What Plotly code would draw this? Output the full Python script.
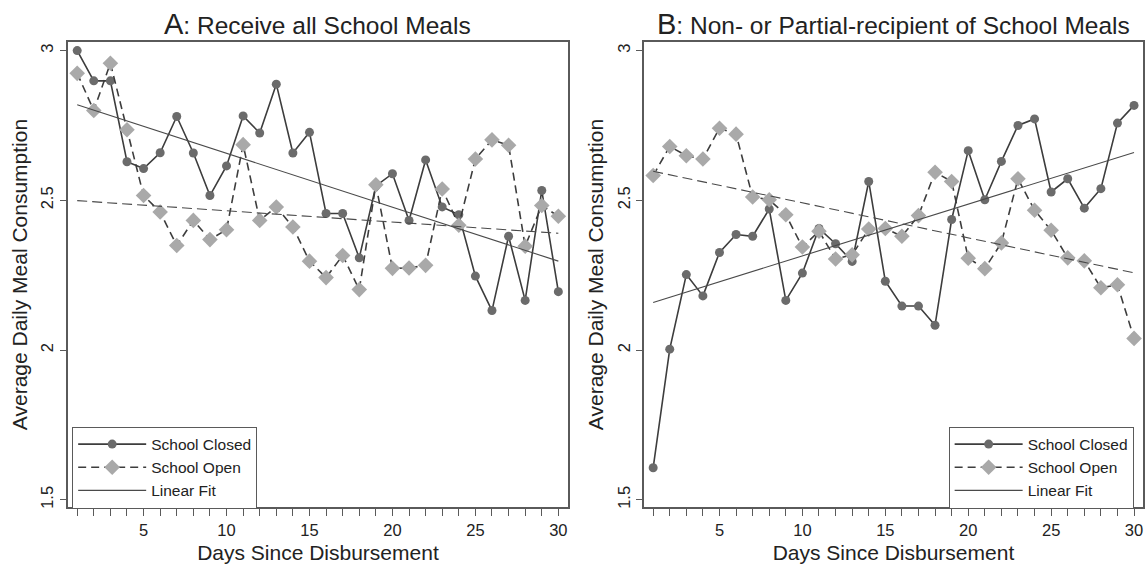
import plotly.graph_objects as go

days = list(range(1, 31))

# Panel A: Receive all School Meals
a_closed = [3.00, 2.899, 2.899, 2.629, 2.606, 2.659, 2.780, 2.658, 2.516, 2.615,
            2.782, 2.725, 2.888, 2.658, 2.727, 2.456, 2.456, 2.308, 2.548, 2.589,
            2.433, 2.635, 2.478, 2.452, 2.247, 2.132, 2.380, 2.166, 2.533, 2.195]
a_open = [2.924, 2.800, 2.958, 2.736, 2.516, 2.461, 2.349, 2.433, 2.369, 2.402,
          2.686, 2.433, 2.478, 2.411, 2.297, 2.242, 2.316, 2.202, 2.552, 2.273,
          2.274, 2.283, 2.538, 2.417, 2.638, 2.702, 2.684, 2.347, 2.483, 2.447]
# linear fit values read at day 1 and day 30
a_closed_fit = [2.819, 2.297]
a_open_fit = [2.499, 2.390]

# Panel B: Non- or Partial-recipient of School Meals
b_closed = [1.607, 2.003, 2.252, 2.181, 2.326, 2.386, 2.380, 2.471, 2.166, 2.257,
            2.406, 2.355, 2.296, 2.563, 2.230, 2.147, 2.147, 2.083, 2.436, 2.666,
            2.502, 2.630, 2.750, 2.772, 2.528, 2.572, 2.474, 2.539, 2.758, 2.817]
b_open = [2.583, 2.680, 2.649, 2.638, 2.741, 2.721, 2.511, 2.502, 2.452, 2.344,
          2.397, 2.304, 2.318, 2.404, 2.406, 2.380, 2.449, 2.594, 2.563, 2.307,
          2.272, 2.358, 2.572, 2.467, 2.400, 2.308, 2.298, 2.208, 2.218, 2.039]
b_closed_fit = [2.159, 2.660]
b_open_fit = [2.597, 2.258]

fit_days = [1, 30]

panel_titles = ["A", "B"]
panel_subtitles = [": Receive all School Meals", ": Non- or Partial-recipient of School Meals"]
series_names = ["School Closed", "School Open", "Linear Fit"]
y_ticks = [1.5, 2, 2.5, 3]
y_ticklabels = ["1.5", "2", "2.5", "3"]
x_ticks = days
x_ticklabels = [str(d) if d % 5 == 0 else "" for d in days]

FONT = "Liberation Sans, Arial, Helvetica, sans-serif"
LINE_C = "#3d3d3d"
CLOSED_M = "#6b6b6b"
OPEN_M = "#a9a9a9"
FIT_C = "#4a4a4a"
FRAME_C = "#5a5a5a"
TXT_C = "#222222"

fig = go.Figure()

panels = [(a_closed, a_open, a_closed_fit, a_open_fit, "x", "y", "legend"),
          (b_closed, b_open, b_closed_fit, b_open_fit, "x2", "y2", "legend2")]
for closed, opn, cfit, ofit, xa, ya, lg in panels:
    fig.add_trace(go.Scatter(x=days, y=closed, mode="lines+markers", name=series_names[0],
                             xaxis=xa, yaxis=ya, legend=lg,
                             line=dict(color=LINE_C, width=1.6),
                             marker=dict(symbol="circle", size=9, color=CLOSED_M)))
    fig.add_trace(go.Scatter(x=days, y=opn, mode="lines+markers", name=series_names[1],
                             xaxis=xa, yaxis=ya, legend=lg,
                             line=dict(color=LINE_C, width=1.6, dash="8px,5px"),
                             marker=dict(symbol="diamond", size=12, color=OPEN_M)))
    fig.add_trace(go.Scatter(x=fit_days, y=cfit, mode="lines", name=series_names[2],
                             xaxis=xa, yaxis=ya, legend=lg,
                             line=dict(color=FIT_C, width=1.1)))
    fig.add_trace(go.Scatter(x=fit_days, y=ofit, mode="lines", name=series_names[2],
                             xaxis=xa, yaxis=ya, showlegend=False,
                             line=dict(color=FIT_C, width=1.1, dash="10px,5px")))

W, H = 1145, 564
ydom = [(H - 508.3) / H, (H - 41.7) / H]
xdomA = [67.7 / W, 569.3 / W]
xdomB = [645.0 / W, 1.0]

axis_common = dict(showline=True, linecolor=FRAME_C, linewidth=1.5, mirror=True,
                   showgrid=False, zeroline=False, ticks="outside", tickcolor=FRAME_C,
                   tickwidth=1.3, tickfont=dict(size=16.5, color=TXT_C, family=FONT))
xcommon = dict(axis_common, tickvals=x_ticks, ticktext=x_ticklabels, ticklen=7,
               title=dict(text="Days Since Disbursement",
                          font=dict(size=21, color=TXT_C, family=FONT), standoff=8))
ycommon = dict(axis_common, tickvals=y_ticks, ticktext=y_ticklabels, ticklen=6, tickangle=-90,
               range=[1.4747, 3.03],
               title=dict(text="Average Daily Meal Consumption",
                          font=dict(size=21, color=TXT_C, family=FONT), standoff=5))

legend_common = dict(xanchor="left", yanchor="top", y=(H - 427.3) / H,
                     bordercolor=FRAME_C, borderwidth=1, bgcolor="white",
                     font=dict(size=15.5, family=FONT, color=TXT_C), itemwidth=68)

fig.update_layout(
    width=W, height=H,
    margin=dict(l=0, r=0, t=0, b=0),
    paper_bgcolor="white", plot_bgcolor="white",
    font=dict(family=FONT, color=TXT_C),
    xaxis=dict(xcommon, domain=xdomA, range=[0.42, 30.6], anchor="y"),
    yaxis=dict(ycommon, domain=ydom, anchor="x"),
    xaxis2=dict(xcommon, domain=xdomB, range=[0.44, 30.54], anchor="y2"),
    yaxis2=dict(ycommon, domain=ydom, anchor="x2"),
    legend=dict(legend_common, x=72.3 / W),
    legend2=dict(legend_common, x=950.3 / W),
    showlegend=True,
)

for dom, big, sub in [(xdomA, panel_titles[0], panel_subtitles[0]),
                      (xdomB, panel_titles[1], panel_subtitles[1])]:
    fig.add_annotation(x=(dom[0] + dom[1]) / 2, y=(H - 24) / H, xref="paper", yref="paper",
                       xanchor="center", yanchor="middle", showarrow=False,
                       text=f"<span style='font-size:29px'>{big}</span>{sub}",
                       font=dict(size=24.5, family=FONT, color=TXT_C))

fig.write_html("out.html", config={"displayModeBar": False})

# remove the browser's default page margin so the figure fills the window exactly
with open("out.html", "r", encoding="utf-8") as f:
    html = f.read()
html = html.replace("<head>", "<head><style>html,body{margin:0;padding:0;overflow:hidden;}</style>", 1)
with open("out.html", "w", encoding="utf-8") as f:
    f.write(html)
